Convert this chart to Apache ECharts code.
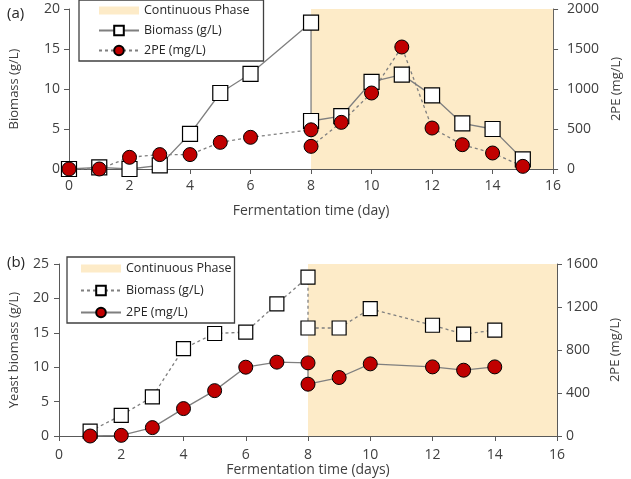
<!DOCTYPE html>
<html><head><meta charset="utf-8">
<script src="https://cdn.jsdelivr.net/npm/echarts@6/dist/echarts.min.js"></script>
<style>html,body{margin:0;padding:0;background:#fff}#c{width:631px;height:479px}</style>
</head><body><div id="c"></div>
<script>
// ---- Panel (a) data ----
const daysA = [0,1,2,3,4,5,6,8,8,9,10,11,12,13,14,15];
const biomassA = [0,0.2,0,0.45,4.4,9.5,11.9,18.3,6.0,6.6,10.9,11.8,9.2,5.7,5.0,1.2];
const pe2A = [0,0,146,180,180,333,396,490,283,583,950,1525,512,304,200,33];
// ---- Panel (b) data ----
const daysB = [1,2,3,4,5,6,7,8,8,9,10,12,13,14];
const biomassB = [0.7,3.0,5.7,12.7,14.9,15.1,19.2,23.1,15.7,15.7,18.5,16.1,14.8,15.4];
const pe2B = [0,6,78,255,422,640,687,680,482,544,671,643,612,643];
// continuous phase
const phaseA = [8,16];
const phaseB = [8,16];
const xTicks = [0,16,2];
const leftA = [0,20,5], rightA = [0,2000,500];
const leftB = [0,25,5], rightB = [0,1600,400];

const zip = (x,y)=>x.map((v,i)=>[v,y[i]]);
const FONT = 'Open Sans';
const bandColor = '#fdebc8';
const axisCol = '#595959';
const labCol = '#404040';
const lineCol = '#7f7f7f';

function xAx(gi, name, gap, margin){
  return {type:'value', gridIndex:gi, min:xTicks[0], max:xTicks[1], interval:xTicks[2],
    name:name, nameLocation:'middle', nameGap:gap,
    nameTextStyle:{fontFamily:FONT,fontSize:14,color:labCol},
    axisLine:{lineStyle:{color:axisCol,width:1}}, axisTick:{length:5,lineStyle:{color:axisCol}},
    axisLabel:{fontFamily:FONT,fontSize:14,color:labCol,margin:margin,formatter:v=>String(v)}, splitLine:{show:false}};
}
function yAx(gi, r, name, gap, pos, margin){
  return {type:'value', gridIndex:gi, position:pos, min:r[0], max:r[1], interval:r[2],
    name:name, nameLocation:'middle', nameGap:gap, nameRotate:90,
    nameTextStyle:{fontFamily:FONT,fontSize:13,color:labCol},
    axisLine:{show:true,lineStyle:{color:axisCol,width:1}}, axisTick:{show:true,length:5,lineStyle:{color:axisCol}},
    axisLabel:{fontFamily:FONT,fontSize:14,color:labCol,margin:margin,formatter:v=>String(v)}, splitLine:{show:false}};
}
function legend(left, top, gap, pad, tag){
  return {orient:'vertical', left:left, top:top, itemWidth:40, itemHeight:12, itemGap:gap,
    padding:pad, borderColor:'#404040', borderWidth:1.3, backgroundColor:'#fff',
    textStyle:{fontFamily:FONT,fontSize:12.5,color:'#262626'},
    lineStyle:{color:lineCol},
    formatter:n=>n.split('|')[0],
    data:[{name:'Continuous Phase|'+tag, icon:'path://M0,0h40v8h-40z', itemStyle:{color:bandColor}},
          'Biomass (g/L)|'+tag, '2PE (mg/L)|'+tag]};
}
const sq = {color:'#fff',borderColor:'#000',borderWidth:1.2};
const ci = {color:'#c00000',borderColor:'#000',borderWidth:1};

const option = {
  animation:false,
  title:[{text:'(a)',left:2,top:1,textStyle:{fontFamily:FONT,fontSize:15,fontWeight:'normal',color:'#262626'}},
         {text:'(b)',left:2,top:250,textStyle:{fontFamily:FONT,fontSize:15,fontWeight:'normal',color:'#262626'}}],
  grid:[{left:68,top:9,width:495,height:160},{left:57,top:264,width:500,height:172}],
  xAxis:[xAx(0,'Fermentation time (day)',35,10), xAx(1,'Fermentation time (days)',23,12)],
  yAxis:[yAx(0,leftA,'Biomass (g/L)',48,'left',9), yAx(0,rightA,'2PE (mg/L)',54,'right',14),
         yAx(1,leftB,'Yeast biomass (g/L)',38,'left',10), yAx(1,rightB,'2PE (mg/L)',51,'right',9)],
  legend:[legend(79,0,7,[4,14,4,19],'a'), legend(67,257,9,[5,3,4,13],'b')],
  series:[
    {type:'line',name:'Continuous Phase|a',xAxisIndex:0,yAxisIndex:0,data:[],itemStyle:{color:bandColor},
     markArea:{silent:true,itemStyle:{color:bandColor},data:[[{xAxis:phaseA[0]},{xAxis:phaseA[1]}]]}},
    {type:'line',name:'Biomass (g/L)|a',xAxisIndex:0,yAxisIndex:0,data:zip(daysA,biomassA),
     symbol:'rect',symbolSize:15,lineStyle:{color:lineCol,width:1.3},itemStyle:sq},
    {type:'line',name:'2PE (mg/L)|a',xAxisIndex:0,yAxisIndex:1,data:zip(daysA,pe2A),
     symbol:'circle',symbolSize:14,lineStyle:{color:lineCol,width:1.3,type:[3,3]},itemStyle:ci},
    {type:'line',name:'Continuous Phase|b',xAxisIndex:1,yAxisIndex:2,data:[],itemStyle:{color:bandColor},
     markArea:{silent:true,itemStyle:{color:bandColor},data:[[{xAxis:phaseB[0]},{xAxis:phaseB[1]}]]}},
    {type:'line',name:'Biomass (g/L)|b',xAxisIndex:1,yAxisIndex:2,data:zip(daysB,biomassB),
     symbol:'rect',symbolSize:14,lineStyle:{color:lineCol,width:1.3,type:[3,3]},itemStyle:sq},
    {type:'line',name:'2PE (mg/L)|b',xAxisIndex:1,yAxisIndex:3,data:zip(daysB,pe2B),
     symbol:'circle',symbolSize:14,lineStyle:{color:lineCol,width:1.3},itemStyle:ci}
  ]
};
echarts.init(document.getElementById('c'),null,{renderer:'canvas'}).setOption(option);
</script></body></html>
